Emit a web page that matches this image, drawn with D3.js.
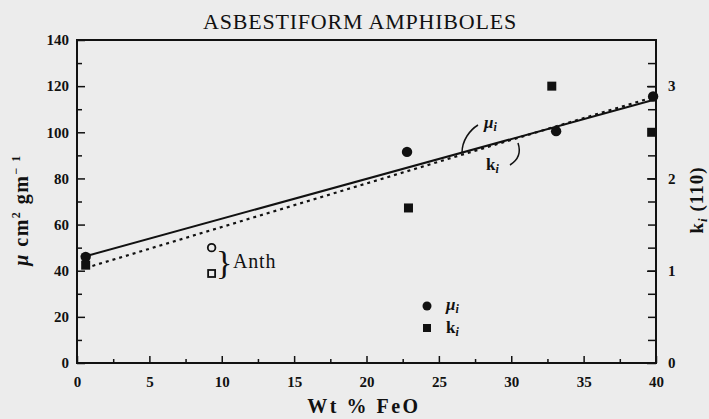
<!DOCTYPE html>
<html>
<head>
<meta charset="utf-8">
<script src="https://cdn.jsdelivr.net/npm/d3@7"></script>
<style>
  body { margin: 0; background: #ececec; }
  svg { display: block; }
  text { font-family: "Liberation Serif", "DejaVu Serif", serif; fill: #111; }
  .tick text { font-weight: bold; font-size: 15px; }
</style>
</head>
<body>
<div id="chart"></div>
<script>
// data
var feoMu = [0.6, 22.8, 33.1, 39.8];
var muValues = [46, 91.5, 100.5, 115.5];
var feoK = [0.6, 22.9, 32.8, 39.7];
var kValues = [1.06, 1.68, 3.0, 2.5];
var anthFeo = [9.3];
var anthMu = [50];
var anthK = [0.97];
// fitted lines (end points)
var fitFeo = [0.6, 39.8];
var fitMu = [46.3, 114];
var fitK = [1.03, 2.88];
var xTicks = [0, 5, 10, 15, 20, 25, 30, 35, 40];
var yTicks = [0, 20, 40, 60, 80, 100, 120, 140];
var kTicks = [0, 1, 2, 3];

var W = 709, H = 419;
var plotL = 77, plotR = 656, plotT = 40, plotB = 363;

var svg = d3.select("#chart").append("svg")
    .attr("width", W).attr("height", H);

var x = d3.scaleLinear().domain([0, 40]).range([plotL, plotR]);
var y = d3.scaleLinear().domain([0, 140]).range([plotB, plotT]);
var yk = d3.scaleLinear().domain([0, 3.5]).range([plotB, plotT]);

// title
svg.append("text")
    .attr("x", 360).attr("y", 29)
    .attr("text-anchor", "middle")
    .style("font-size", "22px").style("letter-spacing", "0.8px")
    .text("ASBESTIFORM AMPHIBOLES");

// minor ticks first
svg.append("g")
    .attr("transform", "translate(0," + plotB + ")")
    .call(d3.axisBottom(x).tickValues(d3.range(2.5, 40, 5)).tickSize(-4).tickFormat(""))
    .call(g => g.select(".domain").remove());
svg.append("g")
    .attr("transform", "translate(" + plotL + ",0)")
    .call(d3.axisLeft(y).tickValues(d3.range(10, 140, 20)).tickSize(-5).tickFormat(""))
    .call(g => g.select(".domain").remove());
svg.append("g")
    .attr("transform", "translate(" + plotR + ",0)")
    .call(d3.axisRight(yk).tickValues(d3.range(0.25, 3.5, 0.25)).tickSize(-8).tickFormat(""))
    .call(g => g.select(".domain").remove());

// major axes
svg.append("g")
    .attr("transform", "translate(0," + plotB + ")")
    .call(d3.axisBottom(x).tickValues(xTicks).tickSize(-7).tickPadding(13).tickFormat(d3.format("d")))
    .call(g => g.select(".domain").remove());
svg.append("g")
    .attr("transform", "translate(" + plotL + ",0)")
    .call(d3.axisLeft(y).tickValues(yTicks).tickSize(-8).tickPadding(8).tickFormat(d3.format("d")))
    .call(g => g.select(".domain").remove());
svg.append("g")
    .attr("transform", "translate(" + plotR + ",0)")
    .call(d3.axisRight(yk).tickValues(kTicks).tickSize(-9).tickPadding(12).tickFormat(d3.format("d")))
    .call(g => g.select(".domain").remove());

svg.selectAll(".tick line").attr("stroke", "#111").attr("stroke-width", 1.5);

// frame
svg.append("rect")
    .attr("x", plotL).attr("y", plotT)
    .attr("width", plotR - plotL).attr("height", plotB - plotT)
    .attr("fill", "none").attr("stroke", "#111").attr("stroke-width", 2);

// axis labels
svg.append("text")
    .attr("x", 364).attr("y", 413)
    .attr("text-anchor", "middle")
    .style("font-size", "20px").style("font-weight", "bold").style("letter-spacing", "2.5px")
    .text("Wt % FeO");

var yl = svg.append("text")
    .attr("transform", "translate(28,210) rotate(-90)")
    .attr("text-anchor", "middle")
    .style("font-size", "20px").style("font-weight", "bold").style("letter-spacing", "1.5px");
yl.append("tspan").style("font-style", "italic").text("\u03bc");
yl.append("tspan").text(" cm");
yl.append("tspan").attr("dy", -8).style("font-size", "12px").text("2");
yl.append("tspan").attr("dy", 8).text(" gm");
yl.append("tspan").attr("dy", -8).style("font-size", "12px").text("\u2212 1");

var kl = svg.append("text")
    .attr("transform", "translate(703,200) rotate(-90)")
    .attr("text-anchor", "middle")
    .style("font-size", "19px").style("font-weight", "bold").style("letter-spacing", "1px");
kl.append("tspan").text("k");
kl.append("tspan").attr("dy", 4).style("font-size", "13px").style("font-style", "italic").text("i");
kl.append("tspan").attr("dy", -4).text(" (110)");

// fit lines
var muLine = d3.line().x(d => x(d[0])).y(d => y(d[1]));
var kLine = d3.line().x(d => x(d[0])).y(d => yk(d[1]));
svg.append("path")
    .datum(d3.zip(fitFeo, fitMu))
    .attr("d", muLine)
    .attr("fill", "none").attr("stroke", "#111").attr("stroke-width", 2);
svg.append("path")
    .datum(d3.zip(fitFeo, fitK))
    .attr("d", kLine)
    .attr("fill", "none").attr("stroke", "#111").attr("stroke-width", 2.2)
    .attr("stroke-dasharray", "3,4");

// points
svg.selectAll(".mu").data(d3.zip(feoMu, muValues)).enter().append("circle")
    .attr("cx", d => x(d[0])).attr("cy", d => y(d[1]))
    .attr("r", 5.2).attr("fill", "#111");
svg.selectAll(".k").data(d3.zip(feoK, kValues)).enter().append("rect")
    .attr("x", d => x(d[0]) - 4.5).attr("y", d => yk(d[1]) - 4.5)
    .attr("width", 9).attr("height", 9).attr("fill", "#111");

// anthophyllite (open symbols)
svg.selectAll(".amu").data(d3.zip(anthFeo, anthMu)).enter().append("circle")
    .attr("cx", d => x(d[0])).attr("cy", d => y(d[1]))
    .attr("r", 3.8).attr("fill", "none").attr("stroke", "#111").attr("stroke-width", 1.8);
svg.selectAll(".ak").data(d3.zip(anthFeo, anthK)).enter().append("rect")
    .attr("x", d => x(d[0]) - 3.5).attr("y", d => yk(d[1]) - 3.5)
    .attr("width", 7).attr("height", 7)
    .attr("fill", "none").attr("stroke", "#111").attr("stroke-width", 1.8);

// brace + Anth
svg.append("text")
    .attr("x", 216).attr("y", 274)
    .style("font-size", "34px").style("font-weight", "normal")
    .text("}");
svg.append("text")
    .attr("x", 233).attr("y", 268)
    .style("font-size", "20px").style("letter-spacing", "0.8px")
    .text("Anth");

// line annotations
svg.append("path")
    .attr("d", "M462,153 C462,140 470,130 478,125")
    .attr("fill", "none").attr("stroke", "#111").attr("stroke-width", 1.5);
var mt = svg.append("text").attr("x", 484).attr("y", 128)
    .style("font-size", "17px").style("font-weight", "bold").style("font-style", "italic");
mt.append("tspan").text("\u03bc");
mt.append("tspan").attr("dy", 3).style("font-size", "12px").text("i");

svg.append("path")
    .attr("d", "M518,143 C521,152 518,160 510,165")
    .attr("fill", "none").attr("stroke", "#111").attr("stroke-width", 1.5);
var kt = svg.append("text").attr("x", 486).attr("y", 170)
    .style("font-size", "17px").style("font-weight", "bold");
kt.append("tspan").text("k");
kt.append("tspan").attr("dy", 3).style("font-size", "12px").style("font-style", "italic").text("i");

// legend
svg.append("circle").attr("cx", 427).attr("cy", 306).attr("r", 4.5).attr("fill", "#111");
svg.append("rect").attr("x", 423).attr("y", 324).attr("width", 8).attr("height", 8).attr("fill", "#111");
var l1 = svg.append("text").attr("x", 446).attr("y", 310)
    .style("font-size", "17px").style("font-weight", "bold").style("font-style", "italic");
l1.append("tspan").text("\u03bc");
l1.append("tspan").attr("dy", 3).style("font-size", "12px").text("i");
var l2 = svg.append("text").attr("x", 446).attr("y", 333)
    .style("font-size", "17px").style("font-weight", "bold");
l2.append("tspan").text("k");
l2.append("tspan").attr("dy", 3).style("font-size", "12px").style("font-style", "italic").text("i");
</script>
</body>
</html>
